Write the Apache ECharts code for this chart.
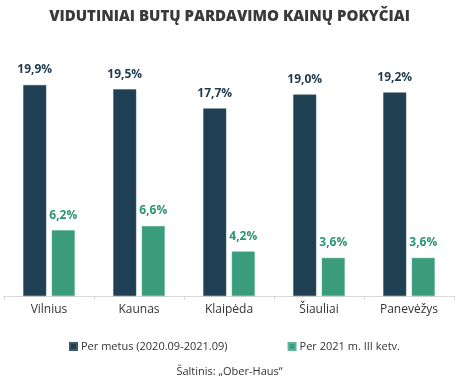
<!DOCTYPE html>
<html><head><meta charset="utf-8">
<script src="https://cdn.jsdelivr.net/npm/echarts@6/dist/echarts.min.js"></script>
<style>html,body{margin:0;padding:0;background:#fff}#c{width:459px;height:380px}</style>
</head><body><div id="c"></div>
<script>
const categories = ['Vilnius', 'Kaunas', 'Klaipėda', 'Šiauliai', 'Panevėžys'];
const seriesNames = ['Per metus (2020.09-2021.09)', 'Per 2021 m. III ketv.'];
const yearValues = [19.9, 19.5, 17.7, 19.0, 19.2];
const quarterValues = [6.2, 6.6, 4.2, 3.6, 3.6];
const titleText = 'VIDUTINIAI BUTŲ PARDAVIMO KAINŲ POKYČIAI';
const sourceText = 'Šaltinis: „Ober-Haus“';

const FONT = '"Open Sans", sans-serif';
const fmt = p => p.value.toFixed(1).replace('.', ',') + '%';
const chart = echarts.init(document.getElementById('c'), null, {renderer: 'canvas'});
chart.setOption({
  animation: false,
  textStyle: {fontFamily: FONT},
  title: [{
    text: titleText, left: 'center', top: 4,
    textStyle: {fontFamily: FONT, fontWeight: 800, fontSize: 15, color: '#3a3a3a'}
  }, {
    text: sourceText, left: 'center', top: 361,
    textStyle: {fontFamily: FONT, fontWeight: 'normal', fontSize: 11, color: '#333'}
  }],
  legend: {
    left: 64, top: 336, itemWidth: 7, itemHeight: 7, itemGap: 60, icon: 'rect',
    textStyle: {fontFamily: FONT, fontSize: 11, color: '#333', padding: [0, 0, 0, -1]},
    data: seriesNames
  },
  grid: {left: 4, right: 5, top: 31, bottom: 84, containLabel: false},
  xAxis: {
    type: 'category', data: categories,
    axisLine: {lineStyle: {color: '#d9d9d9', width: 1}},
    axisTick: {show: true, length: 4, lineStyle: {color: '#d9d9d9'}},
    axisLabel: {fontFamily: FONT, fontSize: 12, color: '#333', margin: 8}
  },
  yAxis: {type: 'value', min: 0, max: 25, show: false, splitLine: {show: false}},
  series: [{
    name: seriesNames[0], type: 'bar', data: yearValues,
    barWidth: 23, barGap: '24%',
    itemStyle: {color: '#1f3f53', borderColor: '#3d5a6b', borderWidth: 0.5},
    label: {show: true, position: 'top', distance: 9, formatter: fmt,
      fontFamily: FONT, fontWeight: 'bold', fontSize: 12, color: '#1f3a4e'}
  }, {
    name: seriesNames[1], type: 'bar', data: quarterValues,
    barWidth: 23,
    itemStyle: {color: '#3a9c7b', borderColor: '#5fb597', borderWidth: 0.5},
    label: {show: true, position: 'top', distance: 9, formatter: fmt,
      fontFamily: FONT, fontWeight: 'bold', fontSize: 12, color: '#2a9572'}
  }]
});
</script></body></html>
